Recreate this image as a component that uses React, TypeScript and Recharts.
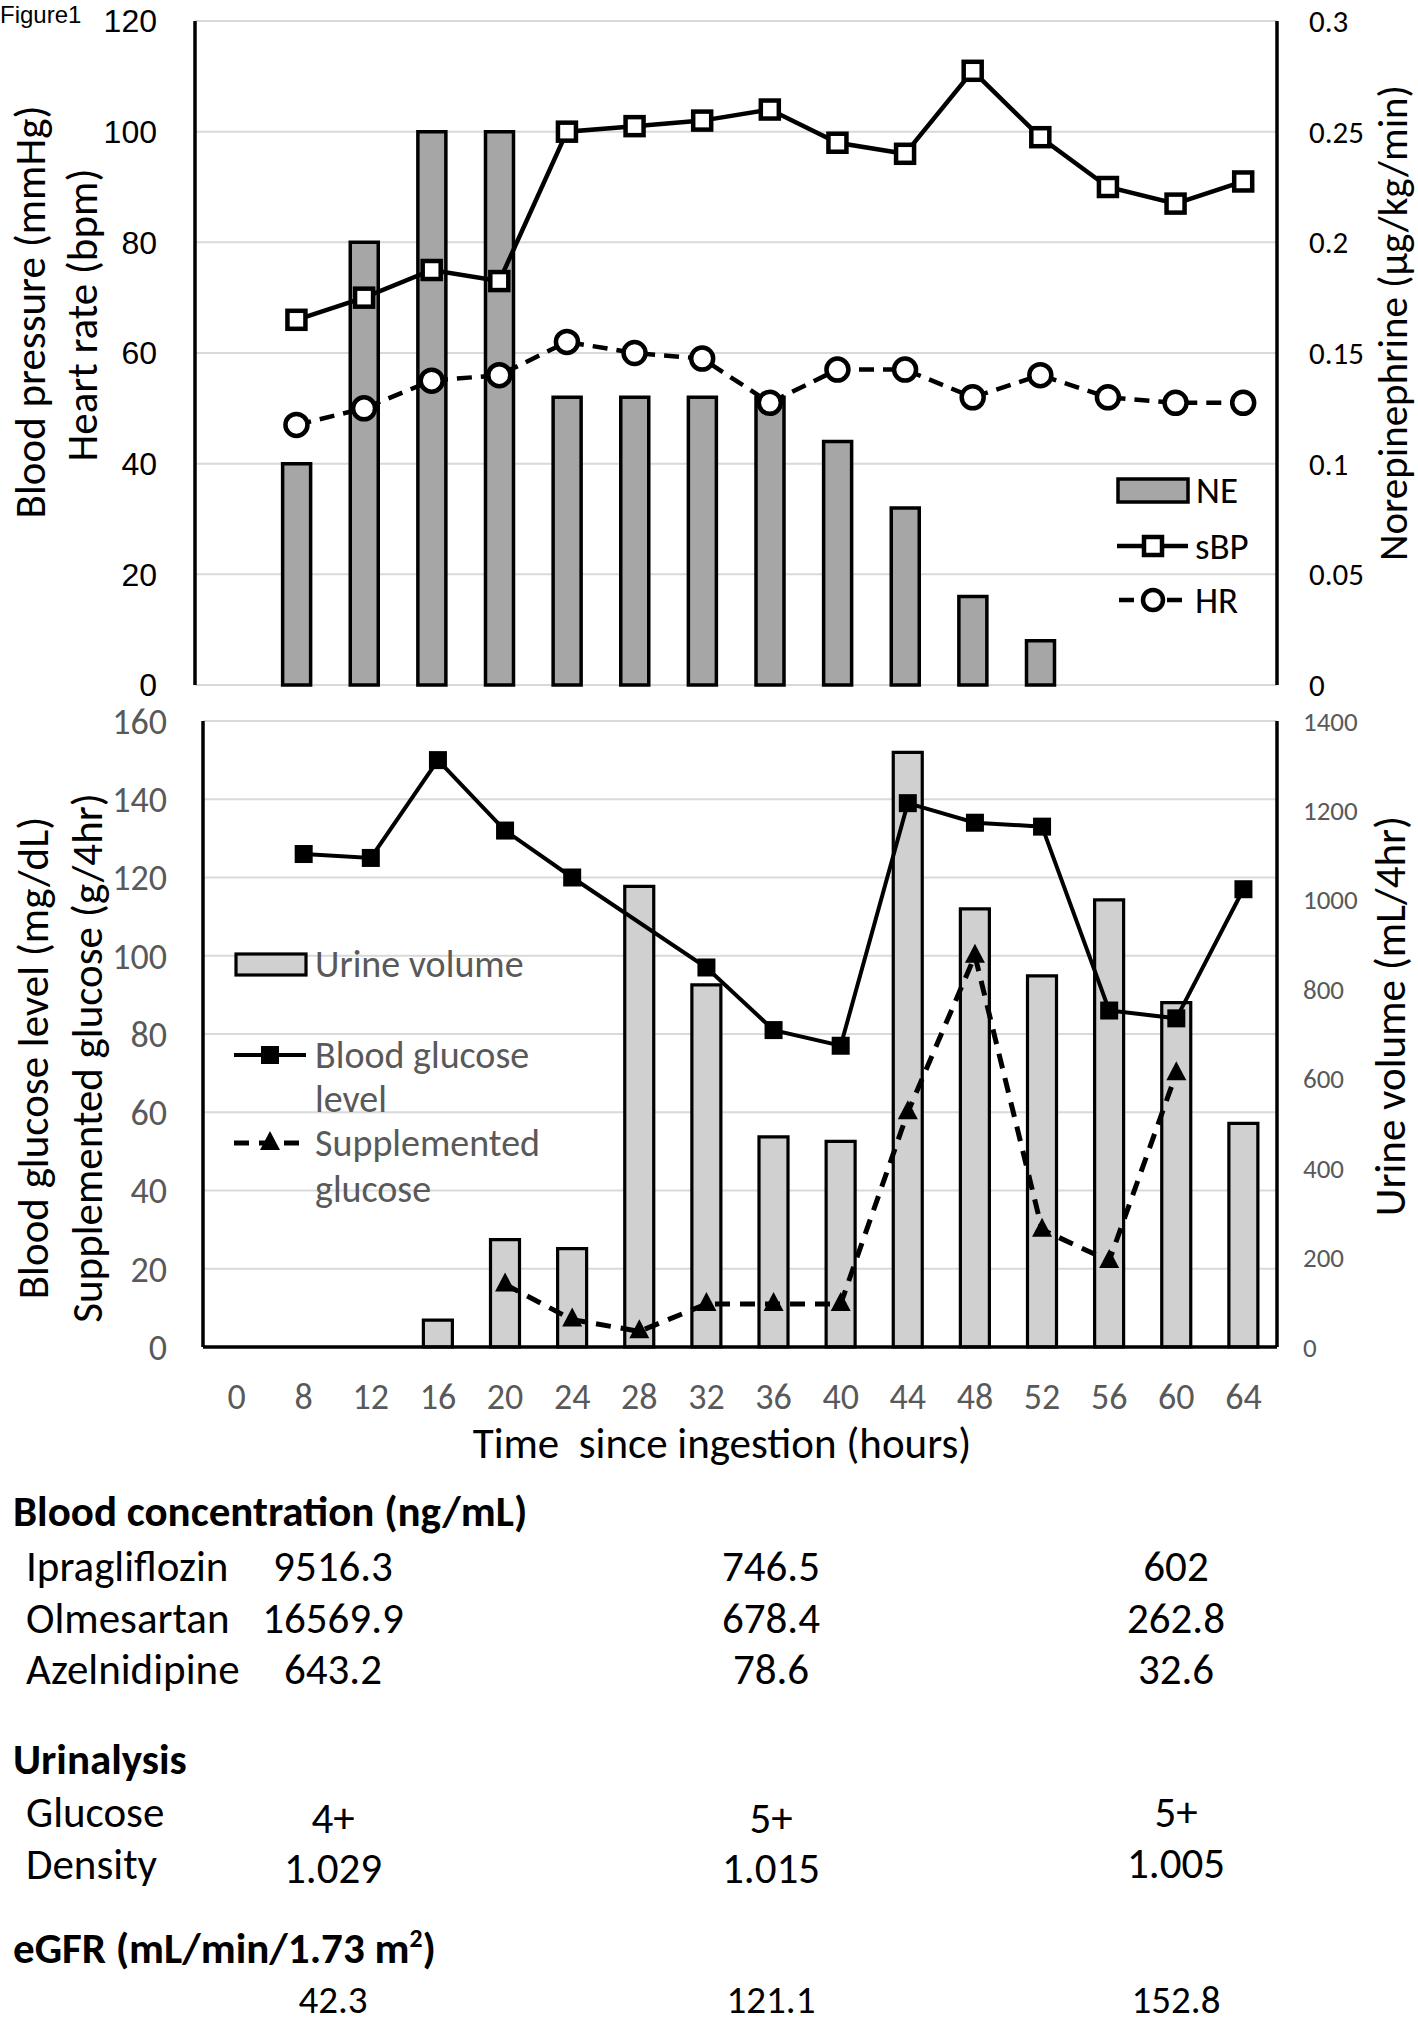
import React from 'react'
import {
  ComposedChart, Bar, Line, XAxis, YAxis, CartesianGrid,
} from 'recharts'

// time points (hours since ingestion)
const hours = ['0', '8', '12', '16', '20', '24', '28', '32', '36', '40', '44', '48', '52', '56', '60', '64']

// top panel
const neDose = [null, 0.1, 0.2, 0.25, 0.25, 0.13, 0.13, 0.13, 0.13, 0.11, 0.08, 0.04, 0.02, null, null, null]
const sbp = [null, 66, 70, 75, 73, 100, 101, 102, 104, 98, 96, 111, 99, 90, 87, 91]
const heartRate = [null, 47, 50, 55, 56, 62, 60, 59, 51, 57, 57, 52, 56, 52, 51, 51]

// bottom panel
const bloodGlucose = [null, 126, 125, 150, 132, 120, null, 97, 81, 77, 139, 134, 133, 86, 84, 117]
const suppGlucose = [null, null, null, null, 16, 7, 4, 11, 11, 11, 60, 100, 30, 22, 70, null]
const urineVolume = [null, null, null, 60, 240, 220, 1030, 810, 470, 460, 1330, 980, 830, 1000, 770, 500]

// axis ticks
const bpTicks = [0, 20, 40, 60, 80, 100, 120]
const neTicks = [0, 0.05, 0.1, 0.15, 0.2, 0.25, 0.3]
const glucoseTicks = [0, 20, 40, 60, 80, 100, 120, 140, 160]
const urineTicks = [0, 200, 400, 600, 800, 1000, 1200, 1400]

// lab table
const drugNames = ['Ipragliflozin', 'Olmesartan', 'Azelnidipine']
const drugLevels = [
  ['9516.3', '746.5', '602'],
  ['16569.9', '678.4', '262.8'],
  ['643.2', '78.6', '32.6'],
]
const urineGlucose = ['4+', '5+', '5+']
const urineDensity = ['1.029', '1.015', '1.005']
const egfr = ['42.3', '121.1', '152.8']

const topData = hours.map((t, i) => ({ t, ne: neDose[i], sbp: sbp[i], hr: heartRate[i] }))
const bottomData = hours.map((t, i) => ({
  t, bg: bloodGlucose[i], sg: suppGlucose[i], uv: urineVolume[i],
}))

const CAL = 'Carlito, Calibri, Lato, sans-serif'
const GRAY = '#595959'

const squareDot = (fill: string, size: number, sw: number) => (p: any) => {
  if (p.cx == null || p.cy == null) return <g key={p.index} />
  return (
    <rect key={p.index} x={p.cx - size / 2} y={p.cy - size / 2} width={size} height={size}
      fill={fill} stroke="#000" strokeWidth={sw} />
  )
}
const circleDot = (p: any) => {
  if (p.cx == null || p.cy == null) return <g key={p.index} />
  return <circle key={p.index} cx={p.cx} cy={p.cy} r={11} fill="#fff" stroke="#000" strokeWidth={4.5} />
}
const triDot = (p: any) => {
  if (p.cx == null || p.cy == null) return <g key={p.index} />
  const { cx, cy } = p
  return <polygon key={p.index} points={`${cx},${cy - 12} ${cx - 10},${cy + 7} ${cx + 10},${cy + 7}`} fill="#000" />
}

const abs = (x: number, y: number, extra: React.CSSProperties = {}): React.CSSProperties => ({
  position: 'absolute', left: x, top: y, whiteSpace: 'pre', ...extra,
})

const VTitle = ({ x, y, text, size, color = '#000', lh = 1 }: any) => (
  <div style={abs(x, y, {
    transform: 'translate(-50%, -50%) rotate(-90deg)', fontFamily: CAL, fontSize: size,
    color, lineHeight: lh,
  })}>{text}</div>
)

const Txt = ({ x, y, text, size = 31, bold = false, center = false, color = '#000', lh = 1 }: any) => (
  <div style={abs(x, y, {
    transform: center ? 'translate(-50%, -50%)' : 'translate(0, -50%)',
    fontFamily: CAL, fontSize: size, fontWeight: bold ? 700 : 400, color, lineHeight: lh,
  })}>{text}</div>
)

const border = { stroke: '#000', strokeWidth: 3.5 }
const colX = [333, 771, 1176]
const TS = 43 // table font size

export default function App() {
  return (
    <div style={{ position: 'absolute', left: 0, top: 0, width: 1418, height: 2024, background: '#fff', overflow: 'hidden' }}>
      <div style={abs(0, 1, { fontFamily: 'Liberation Sans, Arial, sans-serif', fontSize: 24 })}>Figure1</div>

      {/* top panel: blood pressure / heart rate / norepinephrine */}
      <div style={abs(0, 0)}>
        <ComposedChart width={1418} height={715} data={topData}
          margin={{ top: 21, right: 41, bottom: 30, left: 135 }}>
          <CartesianGrid vertical={false} stroke="#d9d9d9" strokeWidth={2} yAxisId="l" xAxisId="b" />
          <XAxis xAxisId="b" dataKey="t" height={0} tick={false} tickLine={false} axisLine={border} />
          <XAxis xAxisId="top" dataKey="t" orientation="top" height={0} tick={false} tickLine={false} axisLine={border} />
          <YAxis yAxisId="l" width={60} domain={[0, 120]} ticks={bpTicks} interval={0}
            tickSize={0} tickMargin={38} axisLine={border}
            tick={{ fill: '#000', fontSize: 32, fontFamily: 'Liberation Sans, Arial, sans-serif' }} />
          <YAxis yAxisId="r" orientation="right" width={100} domain={[0, 0.3]} ticks={neTicks} interval={0}
            tickSize={0} tickMargin={32} axisLine={border}
            tick={{ fill: '#000', fontSize: 31, fontFamily: CAL }} />
          <Bar xAxisId="b" yAxisId="r" dataKey="ne" barSize={28} fill="#a6a6a6" stroke="#000"
            strokeWidth={3.5} isAnimationActive={false} />
          <Line xAxisId="b" yAxisId="l" dataKey="sbp" stroke="#000" strokeWidth={4.5}
            dot={squareDot('#fff', 18, 4.5)} activeDot={false} isAnimationActive={false} />
          <Line xAxisId="b" yAxisId="l" dataKey="hr" stroke="#000" strokeWidth={4.5} strokeDasharray="15 9"
            dot={circleDot} activeDot={false} isAnimationActive={false} />
        </ComposedChart>
      </div>

      <VTitle x={30} y={312} text="Blood pressure (mmHg)" size={43} />
      <VTitle x={82} y={315} text="Heart rate (bpm)" size={43} />
      <VTitle x={1393} y={323} text="Norepinephrine (μg/kg/min)" size={41} />

      {/* top legend */}
      <svg style={abs(0, 0)} width={1418} height={700} pointerEvents="none">
        <rect x={1118} y={479} width={70} height={23} fill="#a6a6a6" stroke="#000" strokeWidth={3.5} />
        <line x1={1117} x2={1188} y1={546} y2={546} stroke="#000" strokeWidth={4.5} />
        <rect x={1144} y={537} width={18} height={18} fill="#fff" stroke="#000" strokeWidth={4.5} />
        <line x1={1117} x2={1188} y1={600} y2={600} stroke="#000" strokeWidth={4.5} strokeDasharray="15 9" strokeDashoffset={-2} />
        <circle cx={1153} cy={600} r={10} fill="#fff" stroke="#000" strokeWidth={4.5} />
      </svg>
      <Txt x={1196} y={490} text="NE" size={37} />
      <Txt x={1195} y={546} text="sBP" size={37} />
      <Txt x={1195} y={600} text="HR" size={37} />

      {/* bottom panel: glucose / urine */}
      <div style={abs(0, 700)}>
        <ComposedChart width={1418} height={760} data={bottomData}
          margin={{ top: 21, right: 41, bottom: 53, left: 123 }}>
          <CartesianGrid vertical={false} stroke="#d9d9d9" strokeWidth={2} yAxisId="l" xAxisId="b" />
          <XAxis xAxisId="b" dataKey="t" height={60} interval={0} tickSize={0} tickMargin={36}
            axisLine={border} tick={{ fill: GRAY, fontSize: 36, fontFamily: CAL }} />
          <XAxis xAxisId="top" dataKey="t" orientation="top" height={0} tick={false} tickLine={false} axisLine={border} />
          <YAxis yAxisId="l" width={80} domain={[0, 160]} ticks={glucoseTicks} interval={0}
            tickSize={0} tickMargin={36} axisLine={border}
            tick={{ fill: GRAY, fontSize: 36, fontFamily: CAL }} />
          <YAxis yAxisId="r" orientation="right" width={100} domain={[0, 1400]} ticks={urineTicks} interval={0}
            tickSize={0} tickMargin={26} axisLine={border}
            tick={{ fill: GRAY, fontSize: 27, fontFamily: CAL }} />
          <Bar xAxisId="b" yAxisId="r" dataKey="uv" barSize={29} fill="#d0d0d0" stroke="#000"
            strokeWidth={3.2} isAnimationActive={false} />
          <Line xAxisId="b" yAxisId="l" dataKey="bg" stroke="#000" strokeWidth={4} connectNulls
            dot={squareDot('#000', 18, 0)} activeDot={false} isAnimationActive={false} />
          <Line xAxisId="b" yAxisId="l" dataKey="sg" stroke="#000" strokeWidth={5} strokeDasharray="15 10"
            dot={triDot} activeDot={false} isAnimationActive={false} />
        </ComposedChart>
      </div>

      <VTitle x={33} y={1058} text="Blood glucose level (mg/dL)" size={43} />
      <VTitle x={87} y={1058} text="Supplemented glucose (g/4hr)" size={43} />
      <VTitle x={1391} y={1016} text="Urine volume (mL/4hr)" size={43} lh={0.85} />
      <Txt x={722} y={1443} text="Time  since ingestion (hours)" size={43} center />

      {/* bottom legend */}
      <svg style={abs(0, 700)} width={1418} height={700} pointerEvents="none">
        <rect x={236} y={254} width={70} height={21} fill="#d0d0d0" stroke="#000" strokeWidth={3.2} />
        <line x1={234} x2={306} y1={355} y2={355} stroke="#000" strokeWidth={4} />
        <rect x={261} y={346} width={18} height={18} fill="#000" />
        <line x1={234} x2={306} y1={443} y2={443} stroke="#000" strokeWidth={5} strokeDasharray="15 10" />
        <polygon points="270,431 260,450 280,450" fill="#000" />
      </svg>
      <Txt x={315} y={964} text="Urine volume" size={38} color={GRAY} />
      <Txt x={315} y={1055} text="Blood glucose" size={38} color={GRAY} />
      <Txt x={315} y={1099} text="level" size={38} color={GRAY} />
      <Txt x={315} y={1143} text="Supplemented" size={38} color={GRAY} />
      <Txt x={315} y={1189} text="glucose" size={38} color={GRAY} />

      {/* lab values */}
      <Txt x={13} y={1511} text="Blood concentration (ng/mL)" size={TS} bold />
      {drugNames.map((name, r) => (
        <React.Fragment key={name}>
          <Txt x={26} y={1566 + r * 51.5} text={name} size={TS} />
          {drugLevels[r].map((v, c) => (
            <Txt key={c} x={colX[c]} y={1566 + r * 51.5} text={v} size={TS} center />
          ))}
        </React.Fragment>
      ))}

      <Txt x={13} y={1759} text="Urinalysis" size={TS} bold />
      <Txt x={26} y={1812} text="Glucose" size={TS} />
      {urineGlucose.map((v, c) => (
        <Txt key={c} x={colX[c]} y={c === 2 ? 1812 : 1818} text={v} size={TS} center />
      ))}
      <Txt x={26} y={1864} text="Density" size={TS} />
      {urineDensity.map((v, c) => (
        <Txt key={c} x={colX[c]} y={c === 2 ? 1863 : 1868} text={v} size={TS} center />
      ))}

      <Txt x={13} y={1948} text={<>eGFR (mL/min/1.73 m<sup style={{ fontSize: '0.6em', lineHeight: 0 }}>2</sup>)</>} size={TS} bold />
      {egfr.map((v, c) => (
        <Txt key={c} x={colX[c]} y={1999} text={v} size={39} center />
      ))}
    </div>
  )
}
